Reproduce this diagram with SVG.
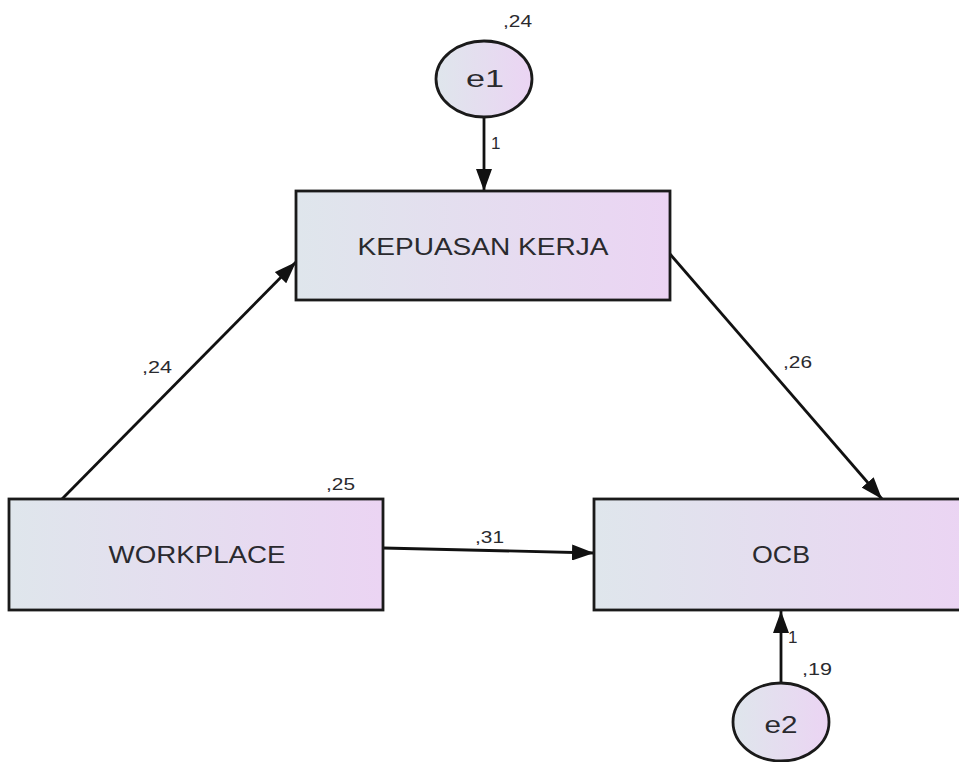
<svg xmlns="http://www.w3.org/2000/svg" width="959" height="762" viewBox="0 0 959 762">
<defs>
<linearGradient id="g" x1="0" y1="0" x2="1" y2="0">
<stop offset="0" stop-color="#dfe6ec"/>
<stop offset="1" stop-color="#ebd4f3"/>
</linearGradient>
<marker id="ah" viewBox="0 0 22 16" refX="22" refY="8" markerWidth="22" markerHeight="16" markerUnits="userSpaceOnUse" orient="auto">
<path d="M0,0 L22,8 L0,16 Z" fill="#111"/>
</marker>
<style>
.box{fill:url(#g);stroke:#1a1a1a;stroke-width:2.8}
.t{font-family:"Liberation Sans",Arial,sans-serif;fill:#2a2a2e}
.lbl{font-size:23px;text-anchor:middle}
.num{font-size:17px}
.c{stroke:#111;stroke-width:2.8;fill:none;marker-end:url(#ah)}
</style>
</defs>
<rect width="959" height="762" fill="#fff"/>
<g id="connectors">
<line class="c" x1="484" y1="117" x2="484" y2="191"/>
<line class="c" x1="62" y1="499" x2="296" y2="262"/>
<line class="c" x1="670" y1="254" x2="882" y2="499"/>
<line class="c" x1="383" y1="548" x2="594" y2="553"/>
<line class="c" x1="781" y1="683" x2="781" y2="611"/>
<text class="t num" x="491" y="149">1</text>
<text class="t num" x="142" y="373" textLength="30" lengthAdjust="spacingAndGlyphs">,24</text>
<text class="t num" x="783" y="368" textLength="29" lengthAdjust="spacingAndGlyphs">,26</text>
<text class="t num" x="475" y="543" textLength="29" lengthAdjust="spacingAndGlyphs">,31</text>
<text class="t num" x="788" y="643">1</text>
<text class="t num" x="802" y="675" textLength="30" lengthAdjust="spacingAndGlyphs">,19</text>
</g>
<g id="e1">
<ellipse class="box" cx="484" cy="79" rx="48" ry="38"/>
<text class="t lbl" x="485" y="87" textLength="38" lengthAdjust="spacingAndGlyphs">e1</text>
<text class="t num" x="503" y="27" textLength="29" lengthAdjust="spacingAndGlyphs">,24</text>
</g>
<g id="kepuasan">
<rect class="box" x="296" y="191" width="374" height="109"/>
<text class="t lbl" x="483" y="255" textLength="251" lengthAdjust="spacingAndGlyphs">KEPUASAN KERJA</text>
</g>
<g id="workplace">
<rect class="box" x="9" y="499" width="374" height="111"/>
<text class="t lbl" x="197" y="563" textLength="177" lengthAdjust="spacingAndGlyphs">WORKPLACE</text>
<text class="t num" x="326" y="490" textLength="29" lengthAdjust="spacingAndGlyphs">,25</text>
</g>
<g id="ocb">
<rect class="box" x="594" y="499" width="374" height="111"/>
<text class="t lbl" x="781" y="563" textLength="58" lengthAdjust="spacingAndGlyphs">OCB</text>
</g>
<g id="e2">
<ellipse class="box" cx="781" cy="722" rx="48" ry="39"/>
<text class="t lbl" x="781" y="733" textLength="33" lengthAdjust="spacingAndGlyphs">e2</text>
</g>
</svg>
